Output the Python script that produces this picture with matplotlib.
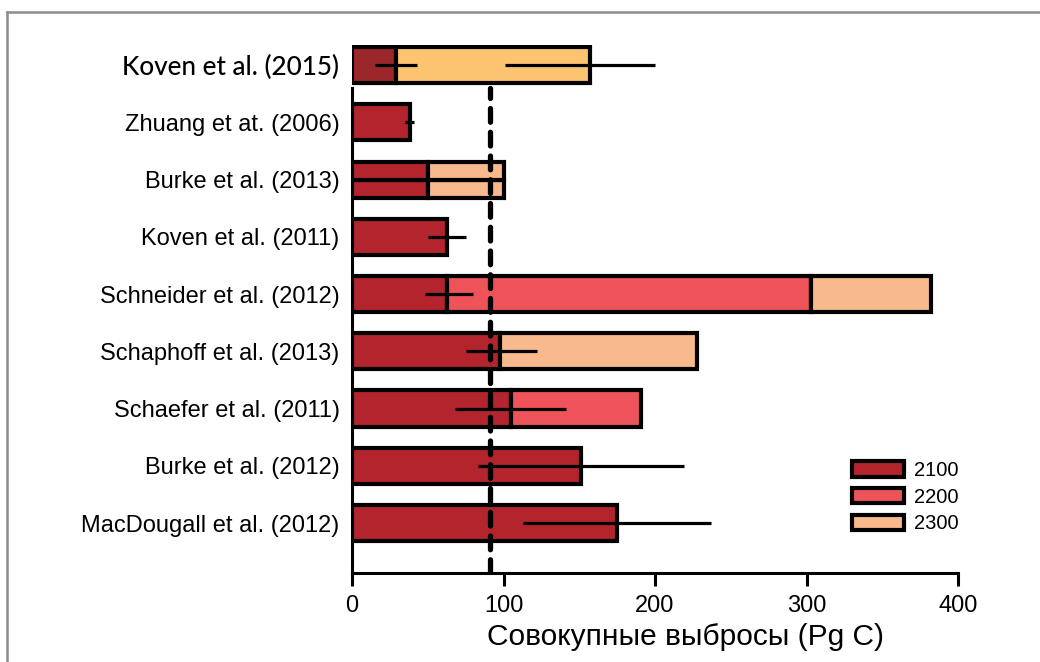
import numpy as np
import matplotlib
matplotlib.use("Agg")
import matplotlib.pyplot as plt
from matplotlib.patches import Patch
from matplotlib.lines import Line2D

plt.rcParams['font.family'] = ['Liberation Sans', 'DejaVu Sans']

# studies, bottom to top
studies = ["MacDougall et al. (2012)", "Burke et al. (2012)", "Schaefer et al. (2011)",
           "Schaphoff et al. (2013)", "Schneider et al. (2012)", "Koven et al. (2011)",
           "Burke et al. (2013)", "Zhuang et at. (2006)", "Koven et al. (2015)"]
# cumulative emissions (Pg C) reached by each year, nan = not given
val_2100 = [175, 151, 105, 98, 63, 63, 50, 38, 29]
val_2200 = [np.nan, np.nan, 191, np.nan, 303, np.nan, np.nan, np.nan, np.nan]
val_2300 = [np.nan, np.nan, np.nan, 228, 382, np.nan, 100, np.nan, 157]
# uncertainty ranges (low, high) per study
err_ranges = [[(113, 237)], [(83, 219)], [(68, 141)], [(75, 122)], [(48, 80)],
              [(50, 75)], [], [(35, 41)], [(15, 43), (101, 200)]]
ref_line = 91

years = ["2100", "2200", "2300"]
colors = ["#B3242C", "#EE5359", "#F8B98C"]
koven15_colors = ["#9C272A", "#FCC470"]

fig = plt.figure(figsize=(10.4, 6.62), dpi=100)
ax = fig.add_axes([352 / 1040, 89 / 662, 606 / 1040, 528 / 662])

h = 0.63
lw = 3
for i, name in enumerate(studies):
    v1, v2, v3 = val_2100[i], val_2200[i], val_2300[i]
    if name == "Burke et al. (2013)":
        # two sub-estimates shown as half-height bars
        for dy in (-h / 4, h / 4):
            ax.barh(i + dy, v1, height=h / 2, color=colors[0], edgecolor="black", lw=lw, zorder=2)
            ax.barh(i + dy, v3 - v1, left=v1, height=h / 2, color=colors[2], edgecolor="black", lw=lw, zorder=2)
        continue
    if name == "Koven et al. (2015)":
        ax.barh(i, v1, height=h, color=koven15_colors[0], edgecolor="black", lw=lw, zorder=2)
        ax.barh(i, v3 - v1, left=v1, height=h, color=koven15_colors[1], edgecolor="black", lw=lw, zorder=2)
    else:
        ax.barh(i, v1, height=h, color=colors[0], edgecolor="black", lw=lw, zorder=2)
        prev = v1
        if not np.isnan(v2):
            ax.barh(i, v2 - prev, left=prev, height=h, color=colors[1], edgecolor="black", lw=lw, zorder=2)
            prev = v2
        if not np.isnan(v3):
            ax.barh(i, v3 - prev, left=prev, height=h, color=colors[2], edgecolor="black", lw=lw, zorder=2)
    for lo, hi in err_ranges[i]:
        ax.plot([lo, hi], [i, i], color="black", lw=2.3, zorder=4, solid_capstyle="butt")

ax.plot([ref_line, ref_line], [-0.88, 7.6], color="black", lw=3.8,
        linestyle=(0, (2.6, 1.9)), dash_capstyle="round", zorder=5)

ax.set_xlim(0, 400)
ax.set_ylim(-0.873, 8.35)
ax.set_xticks([0, 100, 200, 300, 400])
ax.set_yticks(range(len(studies)))
ax.set_yticklabels(studies)
ax.tick_params(axis="y", length=0, pad=9, labelsize=17)
ax.tick_params(axis="x", length=9, width=2.2, pad=7, labelsize=17)
for lab in ax.get_yticklabels():
    if lab.get_text() == "Koven et al. (2015)":
        lab.set_fontfamily(["Lato", "DejaVu Sans"])
        lab.set_fontsize(18.8)
        lab.set_fontweight("medium")

for s in ["top", "right"]:
    ax.spines[s].set_visible(False)
ax.spines["left"].set_linewidth(2.2)
ax.spines["left"].set_bounds(-0.873, 7.6)
ax.spines["bottom"].set_linewidth(2.2)

ax.set_xlabel("Совокупные выбросы (Pg C)", fontsize=21.5)
ax.xaxis.set_label_coords(0.551, -0.122)
ax.xaxis.label.set_va("center")

handles = [Patch(facecolor=c, edgecolor="black", lw=3) for c in colors]
ax.legend(handles, years, loc="upper left", bbox_to_anchor=(0.825, 0.212), frameon=False,
          fontsize=14.5, handlelength=2.6, handleheight=0.8, handletextpad=0.5,
          labelspacing=0.38, borderpad=0, borderaxespad=0)

# gray frame of the original panel
fig.add_artist(Line2D([7 / 1040, 1], [1 - 12 / 662, 1 - 12 / 662], color="#8C8C8C", lw=1.8))
fig.add_artist(Line2D([7 / 1040, 7 / 1040], [0, 1 - 12 / 662], color="#8C8C8C", lw=1.8))

fig.savefig("out.png", dpi=100)
